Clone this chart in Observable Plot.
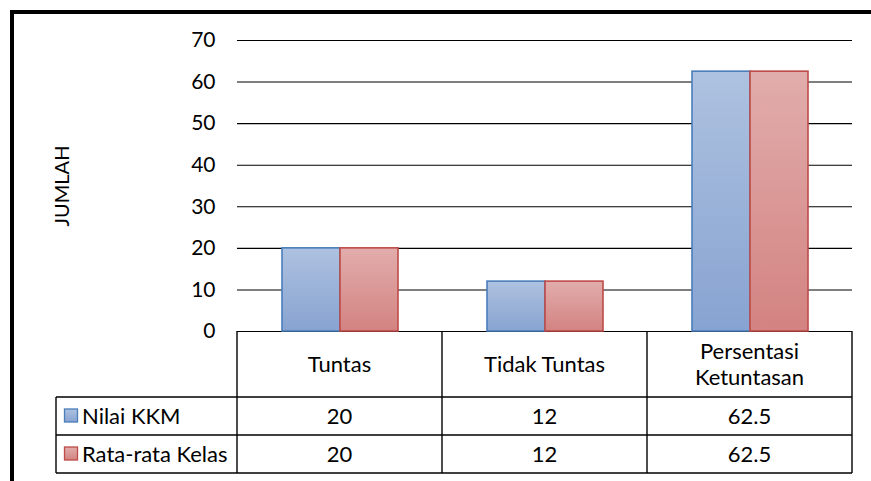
<!DOCTYPE html>
<html>
<head>
<meta charset="utf-8">
<script src="https://cdn.jsdelivr.net/npm/d3@7"></script>
<script src="https://cdn.jsdelivr.net/npm/@observablehq/plot@0.6"></script>
<style>
  body { margin: 0; background: #fff; }
  #chart { position: relative; width: 871px; height: 481px; overflow: hidden; background: #fff; }
  #chart svg { position: absolute; left: 0; top: 0; }
  #frame { position: absolute; left: 10px; top: 10px; width: 900px; height: 500px;
           border-left: 4px solid #000; border-top: 4px solid #000; }
</style>
</head>
<body>
<div id="chart"><div id="frame"></div></div>
<script>
// Categories, series and values
const categories = ["Tuntas", "Tidak Tuntas", "Persentasi Ketuntasan"];
const categoryLines = [["Tuntas"], ["Tidak Tuntas"], ["Persentasi", "Ketuntasan"]];
const series = ["Nilai KKM", "Rata-rata Kelas"];
const nilaiKKM = [20, 12, 62.5];
const rataRataKelas = [20, 12, 62.5];
const yTicks = [0, 10, 20, 30, 40, 50, 60, 70];
const yLabel = "JUMLAH";

const seriesValues = [nilaiKKM, rataRataKelas];
const seriesFill = ["url(#fillKKM)", "url(#fillRata)"];
const seriesStroke = ["#4a7ebb", "#be4b48"];

const rows = series.flatMap((s, i) =>
  categories.map((c, j) => ({series: s, category: c, value: seriesValues[i][j]}))
);

const font = "Lato, 'Open Sans', sans-serif";
const fontSize = 21;
const tableFontSize = 22;

const plot = Plot.plot({
  width: 871,
  height: 481,
  marginTop: 40,
  marginBottom: 150,
  marginLeft: 237,
  marginRight: 19,
  style: {fontFamily: font, fontSize: fontSize + "px", color: "#000", background: "transparent", overflow: "visible"},
  fx: {domain: categories, padding: 0, axis: null, label: null},
  x: {domain: series, paddingInner: 0, paddingOuter: 0.74, axis: null, label: null},
  y: {domain: [0, 70], ticks: yTicks, tickSize: 0, tickPadding: 22, label: null},
  marks: [
    Plot.ruleY(yTicks, {stroke: "#000", strokeWidth: 1.1}),
    ...series.map((s, i) =>
      Plot.barY(rows.filter(d => d.series === s), {
        fx: "category", x: "series", y: "value",
        fill: seriesFill[i], stroke: seriesStroke[i], strokeWidth: 1.6
      })
    ),
    Plot.text([{category: categories[0], label: yLabel}], {
      fx: "category", text: "label", frameAnchor: "left", textAnchor: "middle",
      rotate: -90, dx: -175, fontSize: 20, fill: "#000"
    })
  ]
});

const svg = d3.select(plot);

// Gradient fills for the bars and legend keys
svg.insert("defs", ":first-child").html(`
  <linearGradient id="fillKKM" x1="0" y1="0" x2="0" y2="1">
    <stop offset="0" stop-color="#aec2e0"/>
    <stop offset="1" stop-color="#87a3d1"/>
  </linearGradient>
  <linearGradient id="fillRata" x1="0" y1="0" x2="0" y2="1">
    <stop offset="0" stop-color="#e1adac"/>
    <stop offset="1" stop-color="#d38381"/>
  </linearGradient>`);

// Data table under the plot, aligned with the category bands
const fx = plot.scale("fx");
const y = plot.scale("y");
const bw = fx.bandwidth;
const colLeft = categories.map(c => fx.apply(c));
const tableRight = colLeft[colLeft.length - 1] + bw;
const top0 = y.apply(0);
const headerH = 66, rowH = 38;
const labelLeft = 56;
const rowTops = [top0 + headerH, top0 + headerH + rowH, top0 + headerH + 2 * rowH];
const bottom = rowTops[2];

const table = svg.append("g")
  .attr("font-family", font).attr("font-size", tableFontSize).attr("fill", "#000")
  .attr("text-anchor", "start");

const lines = table.append("g").attr("stroke", "#000").attr("stroke-width", 1.4);
[...colLeft, tableRight].forEach(x =>
  lines.append("line").attr("x1", x).attr("x2", x).attr("y1", top0).attr("y2", bottom));
lines.append("line").attr("x1", labelLeft).attr("x2", labelLeft).attr("y1", rowTops[0]).attr("y2", bottom);
rowTops.forEach(t =>
  lines.append("line").attr("x1", labelLeft).attr("x2", tableRight).attr("y1", t).attr("y2", t));

// Header cells
categoryLines.forEach((ls, j) => {
  const cx = colLeft[j] + bw / 2;
  const cy = top0 + headerH / 2;
  const t = table.append("text").attr("text-anchor", "middle");
  ls.forEach((l, k) => {
    t.append("tspan").attr("x", cx)
      .attr("y", cy + (k - (ls.length - 1) / 2) * 26)
      .attr("dy", "0.35em").text(l);
  });
});

// Series rows with legend keys
series.forEach((s, i) => {
  const cy = rowTops[i] + rowH / 2;
  table.append("rect").attr("x", 64.5).attr("y", cy - 7).attr("width", 13).attr("height", 13)
    .attr("fill", seriesFill[i]).attr("stroke", seriesStroke[i]).attr("stroke-width", 1.3);
  table.append("text").attr("x", 82).attr("y", cy).attr("dy", "0.35em")
    .attr("text-anchor", "start").text(s);
  seriesValues[i].forEach((v, j) => {
    table.append("text").attr("x", colLeft[j] + bw / 2).attr("y", cy).attr("dy", "0.35em")
      .attr("text-anchor", "middle").text(String(v));
  });
});

document.getElementById("chart").appendChild(plot);
</script>
</body>
</html>
